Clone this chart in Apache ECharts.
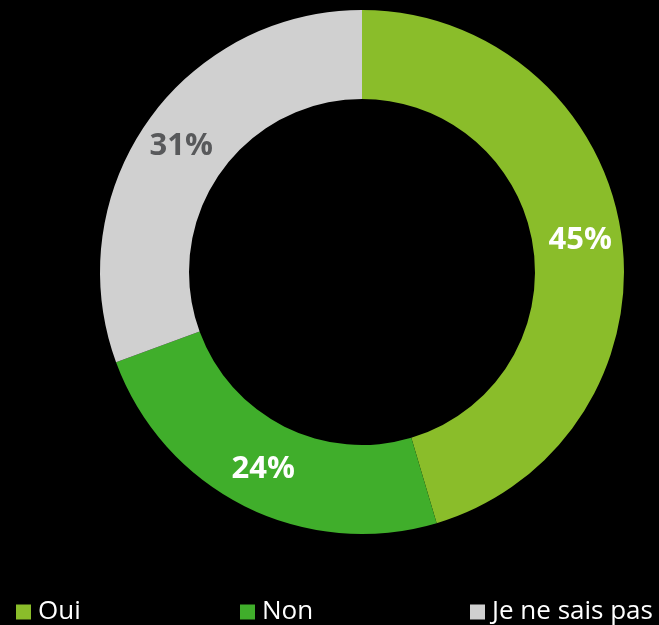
<!DOCTYPE html>
<html lang="fr">
<head>
    <meta charset="UTF-8">
    <title>Donut</title>
    <style>
        html, body { margin: 0; padding: 0; background: #000; }
    </style>
</head>
<body>
<div id="container" style="width: 659px; height: 625px"></div>
<script type="text/javascript" src="https://cdn.jsdelivr.net/npm/echarts@6/dist/echarts.min.js"></script>
<script type="text/javascript">
    var categories = ['Oui', 'Non', 'Je ne sais pas'];
    var values = [45.4, 24.0, 30.6];
    var colors = ['#8abd2a', '#40ae2b', '#d0d0d0'];
    var labelColors = ['#ffffff', '#ffffff', '#58595b'];

    var pieData = [];
    for (var i = 0; i < categories.length; i++) {
        pieData.push({
            name: categories[i],
            value: values[i],
            itemStyle: {color: colors[i]},
            label: {color: labelColors[i]}
        });
    }

    // une légende par item pour les placer comme sur l'original
    var legendLeft = [11, 235, 465];
    var legends = categories.map(function (c, i) {
        return {
            data: [c],
            left: legendLeft[i],
            top: 594,
            itemWidth: 15,
            itemHeight: 15,
            itemGap: 0,
            icon: 'rect',
            textStyle: {color: '#ffffff', fontSize: 26, fontFamily: 'Open Sans', padding: [0, 0, 0, 2]}
        };
    });

    var option = {
        backgroundColor: '#000000',
        animation: false,
        legend: legends,
        series: [
            {
                type: 'pie',
                center: [362, 272],
                radius: [173, 262],
                startAngle: 90,
                clockwise: true,
                label: {
                    show: true,
                    position: 'inside',
                    formatter: function (p) {
                        return Math.round(p.value) + '%';
                    },
                    fontFamily: 'Open Sans',
                    fontWeight: 'bold',
                    fontSize: 31
                },
                labelLine: {show: false},
                itemStyle: {borderWidth: 0},
                emphasis: {disabled: true},
                data: pieData
            }
        ]
    };

    var myChart = echarts.init(document.getElementById('container'));
    myChart.setOption(option);
</script>
</body>
</html>
